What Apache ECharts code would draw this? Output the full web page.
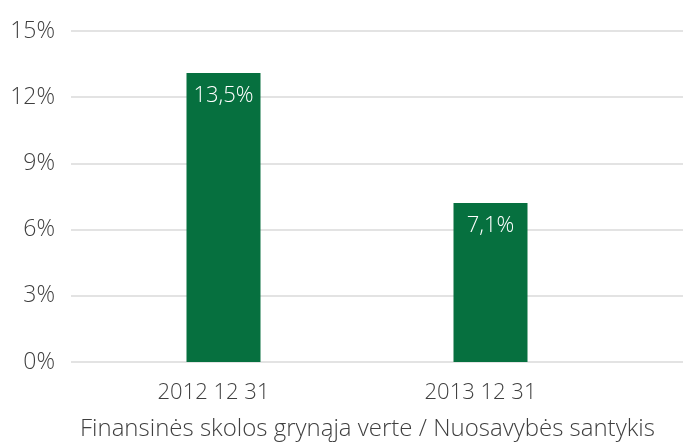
<!DOCTYPE html>
<html>
<head>
<meta charset="utf-8">
<script src="https://cdn.jsdelivr.net/npm/echarts@6/dist/echarts.min.js"></script>
<style>
  html, body { margin: 0; padding: 0; background: #fff; }
  #chart { width: 683px; height: 446px; }
</style>
</head>
<body>
<div id="chart"></div>
<script>
  // datos del gráfico
  var categories = ['2012 12 31', '2013 12 31']
  var values = [13.1, 7.2]
  var valueLabels = ['13,5%', '7,1%']
  var yTicks = [0, 3, 6, 9, 12, 15]
  var caption = 'Finansinės skolos grynąja verte / Nuosavybės santykis'

  var font = '"Open Sans", "Noto Sans", sans-serif'
  var textColor = '#3f3f3f'
  var green = '#06703f'

  var chart = echarts.init(document.getElementById('chart'))
  var option = {
    animation: false,
    title: {
      text: caption,
      left: 80,
      top: 417,
      padding: 0,
      textStyle: {fontFamily: font, fontSize: 24, fontWeight: 300, color: textColor}
    },
    grid: [
      {left: 71, right: 0, top: 31, bottom: 84}, // lineas de fondo
      {left: 90, right: 59, top: 31, bottom: 84}  // barras
    ],
    xAxis: [
      {gridIndex: 0, type: 'value', show: false, min: 0, max: 1},
      {
        gridIndex: 1,
        type: 'category',
        data: categories,
        axisLine: {show: false},
        axisTick: {show: false},
        axisLabel: {
          fontFamily: font, fontSize: 22, fontWeight: 300, color: textColor,
          margin: 20, padding: [0, 20, 0, 0]
        }
      }
    ],
    yAxis: [
      {
        gridIndex: 0,
        type: 'value',
        min: yTicks[0],
        max: yTicks[yTicks.length - 1],
        interval: 3,
        axisLine: {show: false},
        axisTick: {show: false},
        axisLabel: {
          fontFamily: font, fontSize: 23, fontWeight: 300, color: textColor, margin: 16,
          formatter: function (v) { return v + '%' }
        },
        splitLine: {lineStyle: {color: '#e3e3e3', width: 2}}
      },
      {
        gridIndex: 1,
        type: 'value',
        min: yTicks[0],
        max: yTicks[yTicks.length - 1],
        interval: 3,
        show: false
      }
    ],
    series: [{
      type: 'bar',
      xAxisIndex: 1,
      yAxisIndex: 1,
      data: values,
      barWidth: 74,
      itemStyle: {color: green},
      label: {
        show: true,
        position: 'insideTop',
        distance: 12,
        color: '#fff',
        fontFamily: font,
        fontSize: 22,
        fontWeight: 300,
        formatter: function (p) { return valueLabels[p.dataIndex] }
      }
    }]
  }
  chart.setOption(option)
</script>
</body>
</html>
